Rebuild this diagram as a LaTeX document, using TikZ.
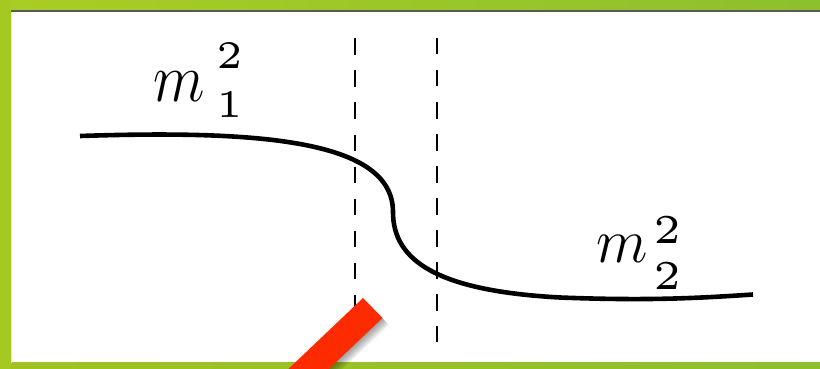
\RequirePackage{fix-cm}
\documentclass[tikz,border=0pt]{standalone}
\definecolor{gtl}{HTML}{A9CD24}
\definecolor{gtr}{HTML}{8DC02E}
\definecolor{gleft}{HTML}{A4CA22}
\definecolor{barred}{HTML}{FF2B00}
\newcommand{\mlabel}[7]{% #1 m yscale, #2 gap, #3 digit scale, #4 sup raise, #5 sup, #6 sub lower, #7 sub
  {\fontsize{60}{70}\selectfont\scalebox{1}[#1]{$m$}}\hspace{#2pt}%
  \makebox[0pt][l]{\raisebox{#4pt}{\scalebox{#3}{\fontsize{5}{6}\selectfont #5}}}%
  \raisebox{-#6pt}{\scalebox{#3}{\fontsize{5}{6}\selectfont #7}}}
\begin{document}
\begin{tikzpicture}[x=1pt,y=-1pt,
  curve/.style={line width=4.6pt},
  guide/.style={line width=2pt, dash pattern=on 16.5pt off 15.5pt},
  lbl/.style={anchor=base west, inner sep=0pt}]
\useasboundingbox (0,0) rectangle (820,369);
\fill[white] (0,0) rectangle (820,369);
% frame
\shade[left color=gtl, right color=gtr] (0,0) rectangle (820,10.5);
\shade[left color=gtl!95!black, right color=gtr] (0,362.5) rectangle (820,369);
\fill[gleft] (0,0) rectangle (11,369);
\fill[black!65] (11,10.3) rectangle (820,11.6);
\fill[gleft!30] (11,11.6) rectangle (12,362.5);
% dashed guides
\coordinate (g1t) at (355,38.5);
\coordinate (g1b) at (355,342);
\coordinate (g2t) at (437,38);
\coordinate (g2b) at (437,342);
\draw[guide] (g1t) -- (g1b);
\draw[guide] (g2t) -- (g2b);
% curve
\coordinate (c0) at (80,136);
\coordinate (c1) at (393,212);
\coordinate (c2) at (560,297.5);
\coordinate (c3) at (753,294.5);
\draw[curve] (c0) .. controls (260,130) and (393,140) .. (c1)
  .. controls (393,262) and (440,291) .. (c2)
  .. controls (650,301) and (700,298) .. (c3);
% labels
\node[lbl] (m1) at (153,102) {\mlabel{1.15}{12}{7.8}{33}{2}{16}{1}};
\node[lbl] (m2) at (596,262) {\mlabel{1.05}{6}{8.2}{18}{2}{27}{2}};
% red bar with soft shadow
\begin{scope}
\clip (0,0) rectangle (820,369);
\foreach \s in {1,2,...,8}{
  \fill[black, opacity=0.05, shift={(\s*0.8,\s*0.9)}]
    (363,298) -- (382.5,318) -- (288.3,407.6) -- (268.8,387.6) -- cycle;
}
\fill[barred] (363,298) -- (382.5,318) -- (288.3,407.6) -- (268.8,387.6) -- cycle;
\end{scope}
\end{tikzpicture}
\end{document}
